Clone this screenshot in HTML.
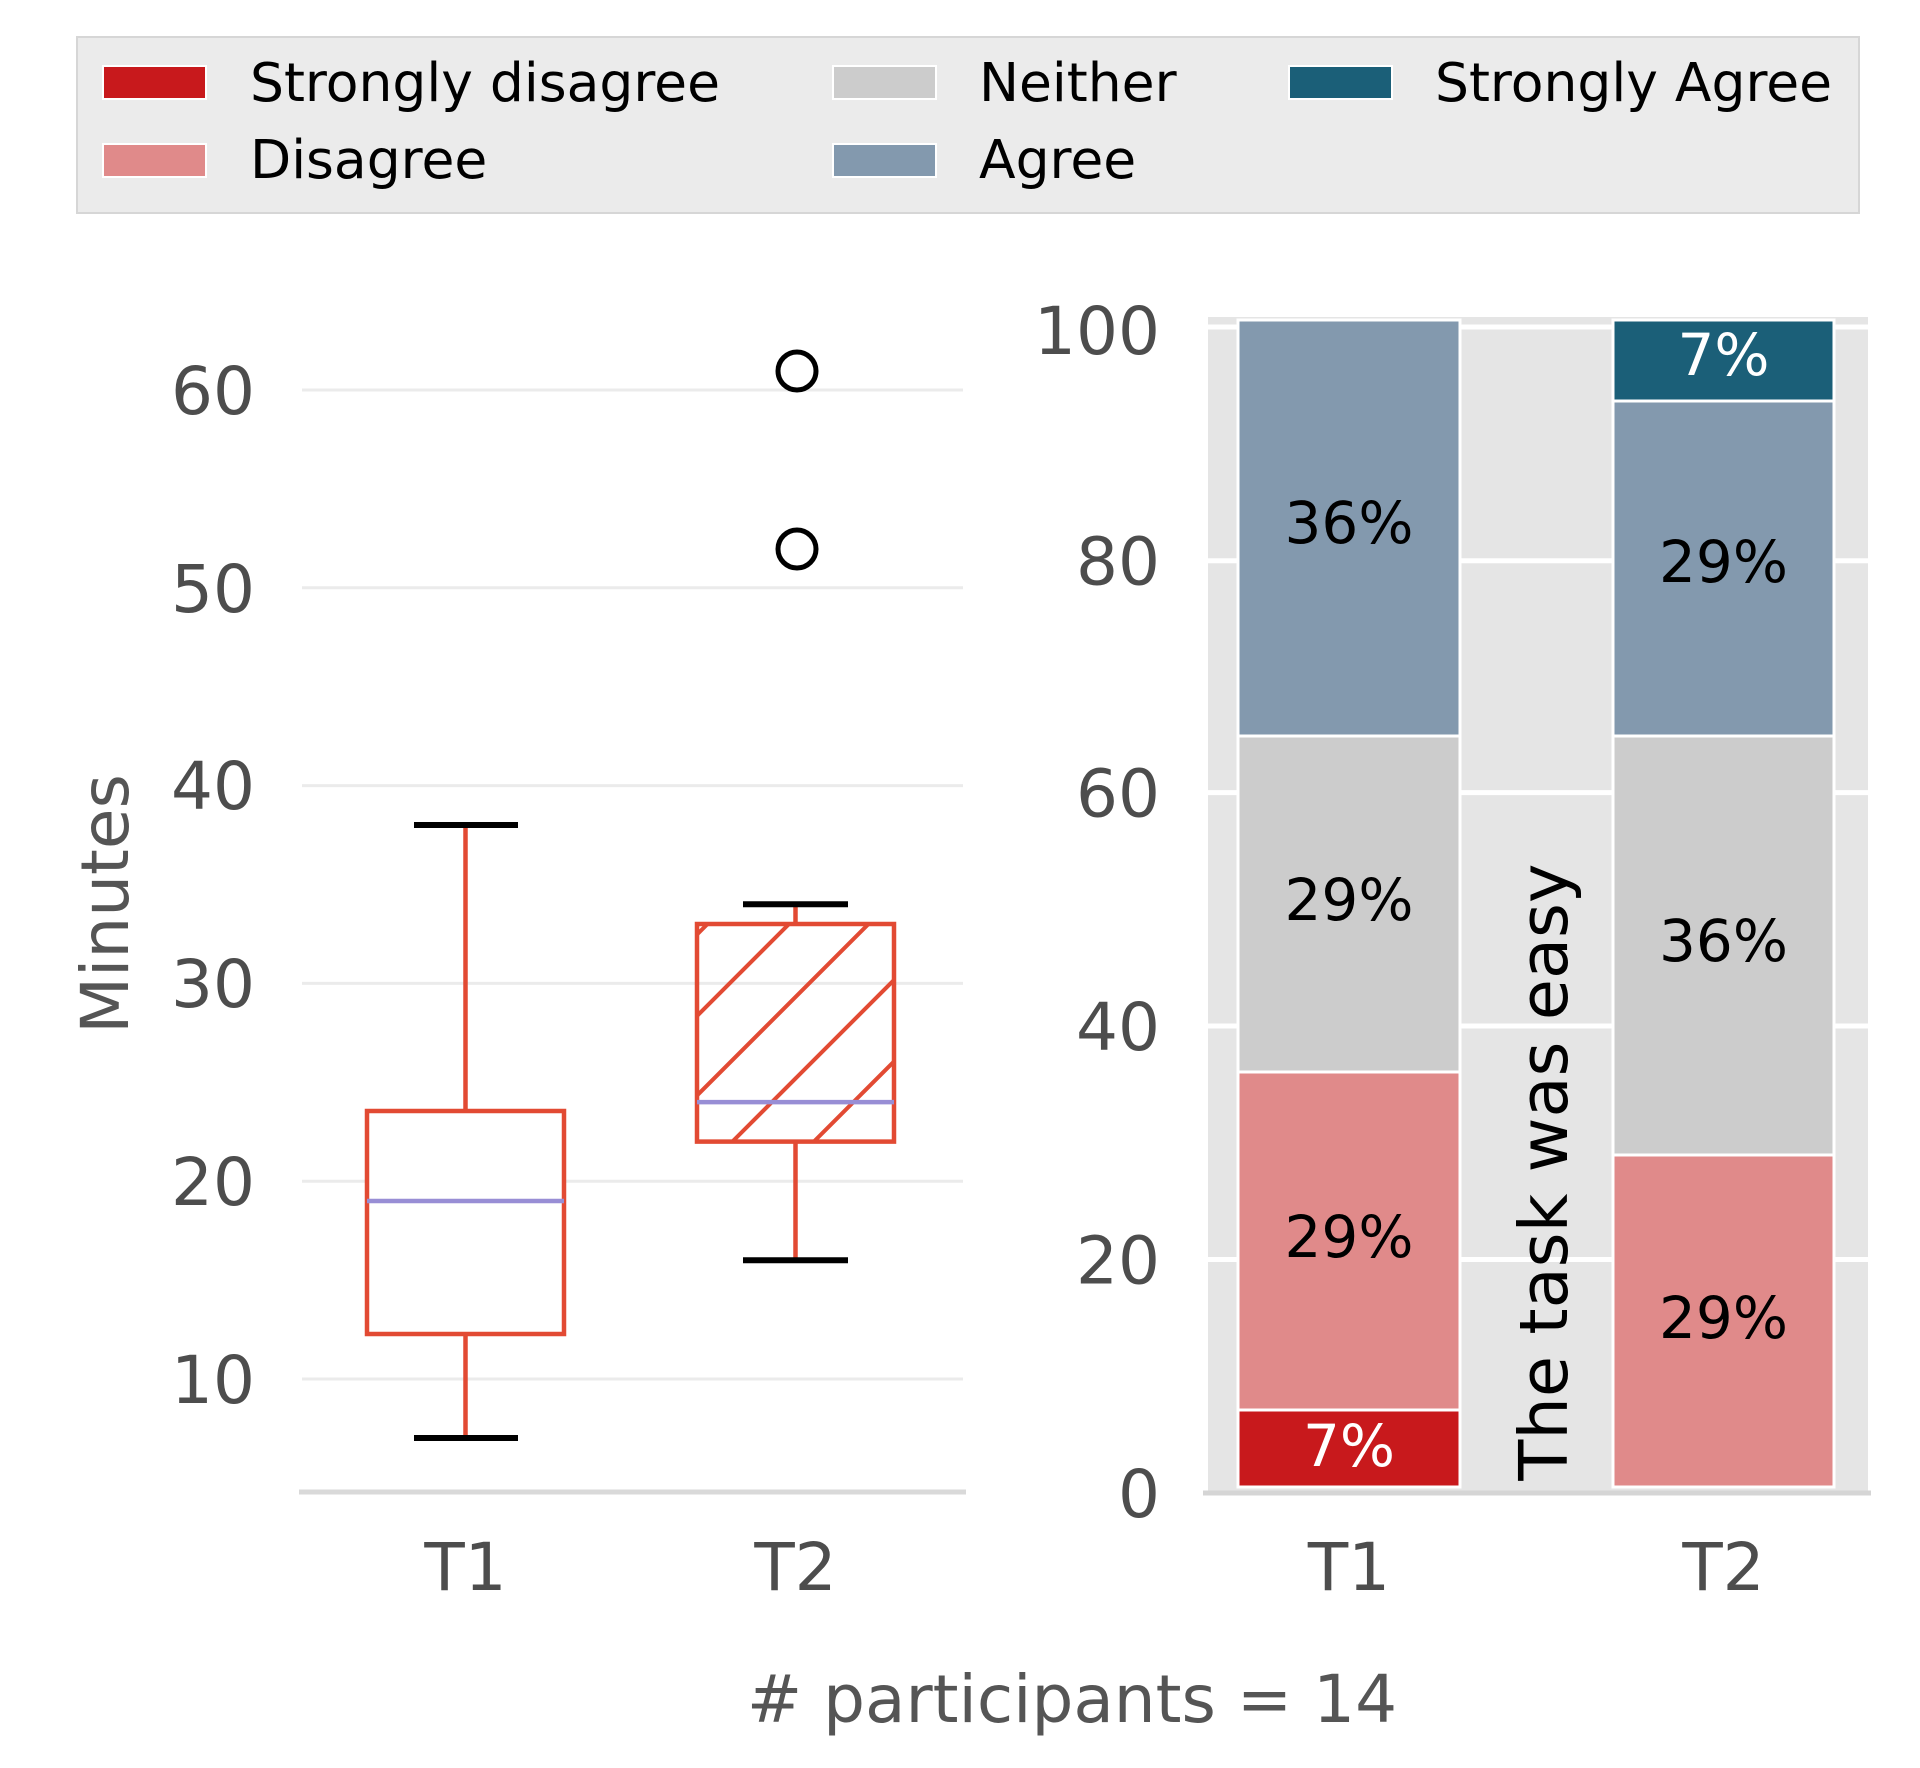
<!DOCTYPE html>
<html>
<head>
<meta charset="utf-8">
<style>
  html, body { margin: 0; padding: 0; background: #ffffff; }
  svg { display: block; }
  text { font-family: "DejaVu Sans", "Liberation Sans", sans-serif; }
</style>
</head>
<body>
<svg width="1920" height="1768" viewBox="0 0 1920 1768" xmlns="http://www.w3.org/2000/svg">
  <rect x="0" y="0" width="1920" height="1768" fill="#ffffff"/>

  <!-- Legend -->
  <rect x="77" y="37" width="1782" height="176" fill="#ebebeb" stroke="#d6d6d6" stroke-width="2"/>
  <g stroke="#ffffff" stroke-width="2">
    <rect x="103" y="66" width="103" height="33" fill="#c8191c"/>
    <rect x="103" y="144" width="103" height="33" fill="#e08a8a"/>
    <rect x="833" y="66" width="103" height="33" fill="#cccccc"/>
    <rect x="833" y="144" width="103" height="33" fill="#8399ae"/>
    <rect x="1289" y="66" width="103" height="33" fill="#1b5f78"/>
  </g>
  <g font-size="53.5" fill="#000000">
    <text x="250" y="101">Strongly disagree</text>
    <text x="250" y="178">Disagree</text>
    <text x="979" y="101">Neither</text>
    <text x="979" y="178">Agree</text>
    <text x="1435" y="101">Strongly Agree</text>
  </g>

  <!-- LEFT: boxplot -->
  <g stroke="#ebebeb" stroke-width="3">
    <line x1="302" y1="390" x2="963" y2="390"/>
    <line x1="302" y1="587.8" x2="963" y2="587.8"/>
    <line x1="302" y1="785.6" x2="963" y2="785.6"/>
    <line x1="302" y1="983.4" x2="963" y2="983.4"/>
    <line x1="302" y1="1181.2" x2="963" y2="1181.2"/>
    <line x1="302" y1="1379" x2="963" y2="1379"/>
  </g>
  <line x1="299" y1="1492" x2="966" y2="1492" stroke="#d9d9d9" stroke-width="5"/>

  <g font-size="66" fill="#4d4d4d" text-anchor="end">
    <text x="255" y="414">60</text>
    <text x="255" y="612">50</text>
    <text x="255" y="809">40</text>
    <text x="255" y="1007">30</text>
    <text x="255" y="1205">20</text>
    <text x="255" y="1403">10</text>
  </g>
  <text transform="translate(128,904) rotate(-90)" text-anchor="middle" font-size="66" fill="#555555">Minutes</text>

  <!-- T1 box -->
  <g stroke="#E24A33" stroke-width="4.5" fill="none">
    <line x1="465.5" y1="1111" x2="465.5" y2="825"/>
    <line x1="465.5" y1="1334" x2="465.5" y2="1438"/>
    <rect x="367" y="1111" width="197" height="223" fill="#ffffff"/>
  </g>
  <line x1="367" y1="1201" x2="564" y2="1201" stroke="#988ED5" stroke-width="4.5"/>
  <g stroke="#000000" stroke-width="6">
    <line x1="414" y1="825" x2="518" y2="825"/>
    <line x1="414" y1="1438" x2="518" y2="1438"/>
  </g>

  <!-- T2 box -->
  <defs>
    <clipPath id="t2clip"><rect x="697" y="924" width="197" height="217.6"/></clipPath>
  </defs>
  <g stroke="#E24A33" stroke-width="4.5" fill="none">
    <line x1="795.5" y1="924" x2="795.5" y2="904.3"/>
    <line x1="795.5" y1="1141.6" x2="795.5" y2="1260.3"/>
  </g>
  <g clip-path="url(#t2clip)" stroke="#E24A33" stroke-width="4">
    <line x1="680" y1="951.5" x2="910" y2="721.5"/>
    <line x1="680" y1="1033" x2="910" y2="803"/>
    <line x1="680" y1="1112.5" x2="910" y2="882.5"/>
    <line x1="680" y1="1194" x2="910" y2="964"/>
    <line x1="680" y1="1275.5" x2="910" y2="1045.5"/>
    <line x1="680" y1="1357" x2="910" y2="1127"/>
  </g>
  <rect x="697" y="924" width="197" height="217.6" fill="none" stroke="#E24A33" stroke-width="4.5"/>
  <line x1="697" y1="1102.1" x2="894" y2="1102.1" stroke="#988ED5" stroke-width="4.5"/>
  <g stroke="#000000" stroke-width="6">
    <line x1="743" y1="904.3" x2="848" y2="904.3"/>
    <line x1="743" y1="1260.3" x2="848" y2="1260.3"/>
  </g>
  <g stroke="#000000" stroke-width="5" fill="none">
    <circle cx="797" cy="371" r="19"/>
    <circle cx="797" cy="549" r="19"/>
  </g>

  <g font-size="66" fill="#4d4d4d" text-anchor="middle">
    <text x="465.5" y="1590">T1</text>
    <text x="795.5" y="1590">T2</text>
  </g>

  <!-- RIGHT: stacked bars -->
  <rect x="1208" y="317" width="660" height="1176" fill="#e5e5e5"/>
  <g stroke="#ffffff" stroke-width="5">
    <line x1="1208" y1="327" x2="1868" y2="327"/>
    <line x1="1208" y1="560.7" x2="1868" y2="560.7"/>
    <line x1="1208" y1="792.6" x2="1868" y2="792.6"/>
    <line x1="1208" y1="1026" x2="1868" y2="1026"/>
    <line x1="1208" y1="1259.5" x2="1868" y2="1259.5"/>
  </g>
  <line x1="1203" y1="1493" x2="1871" y2="1493" stroke="#d5d5d5" stroke-width="5"/>

  <g stroke="#ffffff" stroke-width="3">
    <!-- T1 -->
    <rect x="1238" y="1410" width="222" height="77" fill="#c8191c"/>
    <rect x="1238" y="1072" width="222" height="338" fill="#e08a8a"/>
    <rect x="1238" y="736" width="222" height="336" fill="#cccccc"/>
    <rect x="1238" y="320" width="222" height="416" fill="#8399ae"/>
    <!-- T2 -->
    <rect x="1613" y="1155" width="221" height="332" fill="#e08a8a"/>
    <rect x="1613" y="736" width="221" height="419" fill="#cccccc"/>
    <rect x="1613" y="401" width="221" height="335" fill="#8399ae"/>
    <rect x="1613" y="320" width="221" height="81" fill="#1b5f78"/>
  </g>

  <g font-size="58" text-anchor="middle">
    <text x="1349" y="1466" fill="#ffffff">7%</text>
    <text x="1349" y="1257" fill="#000000">29%</text>
    <text x="1349" y="920" fill="#000000">29%</text>
    <text x="1349" y="543" fill="#000000">36%</text>
    <text x="1723.5" y="1338" fill="#000000">29%</text>
    <text x="1723.5" y="961" fill="#000000">36%</text>
    <text x="1723.5" y="582" fill="#000000">29%</text>
    <text x="1723.5" y="375" fill="#ffffff">7%</text>
  </g>

  <text transform="translate(1567,1172) rotate(-90)" text-anchor="middle" font-size="67" fill="#000000">The task was easy</text>

  <g font-size="66" fill="#4d4d4d" text-anchor="end">
    <text x="1160" y="354">100</text>
    <text x="1160" y="584.7">80</text>
    <text x="1160" y="816.6">60</text>
    <text x="1160" y="1050">40</text>
    <text x="1160" y="1283.5">20</text>
    <text x="1160" y="1517">0</text>
  </g>
  <g font-size="66" fill="#4d4d4d" text-anchor="middle">
    <text x="1349" y="1590">T1</text>
    <text x="1723.5" y="1590">T2</text>
  </g>

  <text x="1072" y="1722" text-anchor="middle" font-size="66" fill="#555555"># participants = 14</text>
</svg>
</body>
</html>
